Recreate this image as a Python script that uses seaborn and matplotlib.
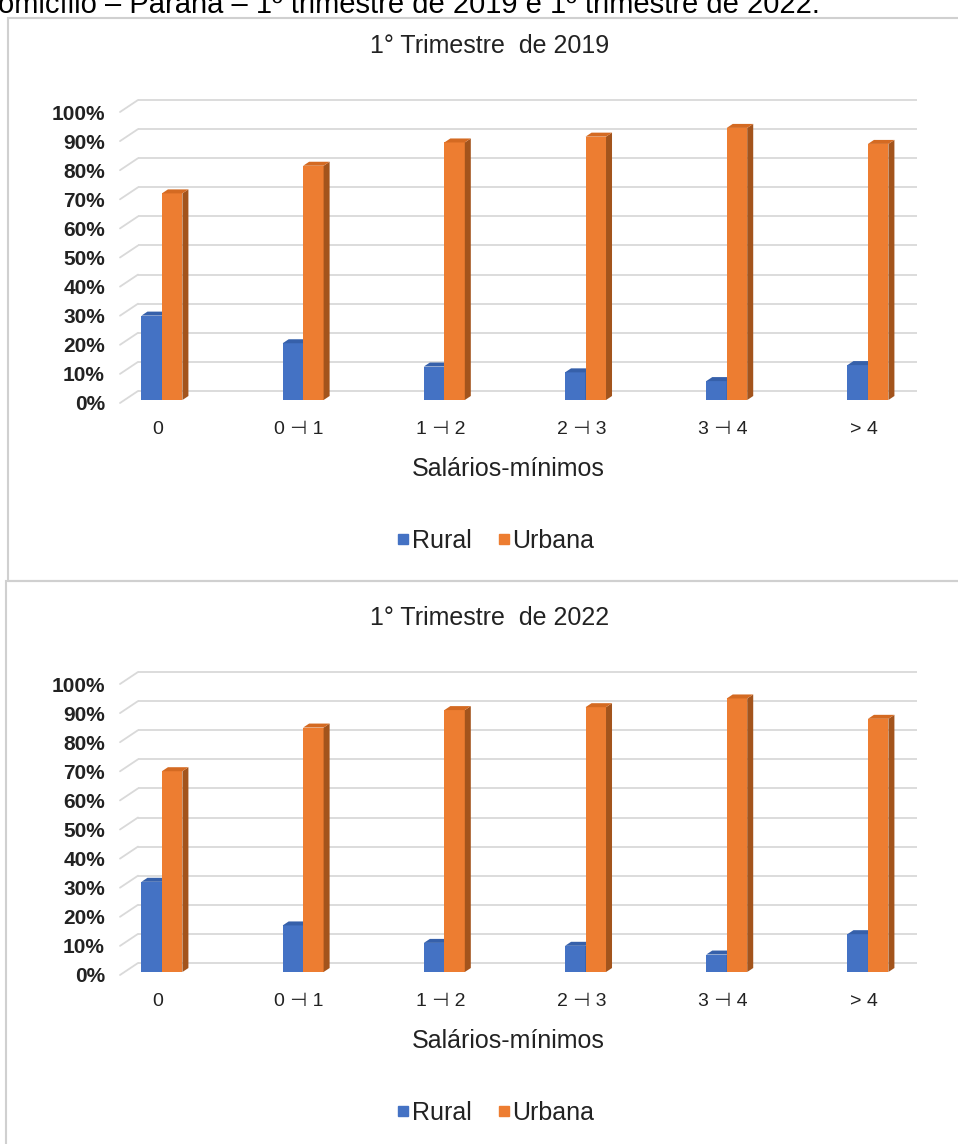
import matplotlib
matplotlib.use("Agg")
import matplotlib.pyplot as plt
from matplotlib import transforms
from matplotlib.patches import Polygon, Rectangle
from matplotlib.lines import Line2D
import pandas as pd
import seaborn as sns

# ---- data -------------------------------------------------------------
faixas = ["0", "0 \u22a3 1", "1 \u22a3 2", "2 \u22a3 3", "3 \u22a3 4", "> 4"]
areas = ["Rural", "Urbana"]
rural_2019 = [29.0, 19.5, 11.5, 9.5, 6.5, 12.0]
urbana_2019 = [71.0, 80.5, 88.5, 90.5, 93.5, 88.0]
rural_2022 = [31.0, 16.0, 10.0, 9.0, 6.0, 13.0]
urbana_2022 = [69.0, 84.0, 90.0, 91.0, 94.0, 87.0]
y_ticks = list(range(0, 101, 10))
y_tick_labels = [f"{v}%" for v in y_ticks]
titulos = ["1\u00b0 Trimestre  de 2019", "1\u00b0 Trimestre  de 2022"]
eixo_x = "Sal\u00e1rios-m\u00ednimos"
cabecalho = ("Rendimento domiciliar per capita por situa\u00e7\u00e3o do domic\u00edlio"
             " \u2013 Paran\u00e1 \u2013 1\u00ba trimestre de 2019 e 1\u00ba trimestre de 2022.")

# ---- style ------------------------------------------------------------
sns.set_theme(style="white")
plt.rcParams["font.family"] = ["Liberation Sans", "DejaVu Sans"]

W, H, DPI = 958, 1144, 100
FRONT = {"Rural": "#4472C4", "Urbana": "#ED7D31"}
TOP = {"Rural": "#3660AA", "Urbana": "#D46A22"}
SIDE = {"Rural": "#2F5597", "Urbana": "#A3541C"}
GRID = "#D9D9D9"
TXT = "#222222"
WALL_DX, WALL_DY = 18, 9      # depth of the back wall, pixels
BAR_DX, BAR_DY = 6, 4         # depth of each column, pixels

fig = plt.figure(figsize=(W / DPI, H / DPI), dpi=DPI)
fig.patch.set_facecolor("white")

ident = transforms.IdentityTransform()


def px_axes(left, top, right, bottom):
    return fig.add_axes([left / W, 1 - bottom / H, (right - left) / W, (bottom - top) / H])


def draw_panel(off, titulo, rural, urbana):
    ax = px_axes(120, 109 + off, 899, 400 + off)
    df = pd.DataFrame({
        "faixa": faixas * 2,
        "area": ["Rural"] * len(faixas) + ["Urbana"] * len(faixas),
        "pct": list(rural) + list(urbana),
    })
    sns.barplot(data=df, x="faixa", y="pct", hue="area", order=faixas,
                hue_order=areas, palette=FRONT, width=0.29, saturation=1,
                errorbar=None, legend=False, linewidth=0, ax=ax)
    ax.set_ylim(0, 100)
    ax.set_xlim(-0.297, 5.22)
    ax.set_xlabel("")
    ax.set_ylabel("")
    ax.set_xticks([])
    ax.set_yticks([])
    for s in ax.spines.values():
        s.set_visible(False)
    ax.patch.set_alpha(0)

    # back-wall gridlines and the left-hand depth edges
    wall = transforms.offset_copy(ax.transData, fig=fig, x=WALL_DX, y=WALL_DY, units="dots")
    x0, x1 = ax.get_xlim()
    for v in y_ticks:
        ax.plot([x0, x1], [v, v], transform=wall, color=GRID, lw=1.3,
                zorder=0.5, clip_on=False, solid_capstyle="butt")
        fx, fy = ax.transData.transform((x0, v))
        ax.add_line(Line2D([fx, fx + WALL_DX], [fy - 3, fy + WALL_DY], transform=ident,
                           color=GRID, lw=1.3, zorder=0.5, clip_on=False))

    # 3-D faces of each column
    for area, cont in zip(areas, ax.containers):
        z = 2.5 if area == "Rural" else 3
        for bar in cont:
            bar.set_zorder(z)
            bx, bw, bh = bar.get_x(), bar.get_width(), bar.get_height()
            xa, ya = ax.transData.transform((bx, bh))
            xb, yb0 = ax.transData.transform((bx + bw, 0))
            top = [(xa, ya), (xb, ya), (xb + BAR_DX, ya + BAR_DY), (xa + BAR_DX, ya + BAR_DY)]
            side = [(xb, yb0), (xb, ya), (xb + BAR_DX, ya + BAR_DY), (xb + BAR_DX, yb0 + BAR_DY)]
            ax.add_patch(Polygon(side, closed=True, transform=ident, fc=SIDE[area],
                                 ec="none", zorder=z, clip_on=False))
            ax.add_patch(Polygon(top, closed=True, transform=ident, fc=TOP[area],
                                 ec="none", zorder=z, clip_on=False))

    # tick labels
    ylab_tr = transforms.offset_copy(ax.get_yaxis_transform(), fig=fig, x=-15, y=-5, units="dots")
    for v, lab in zip(y_ticks, y_tick_labels):
        ax.text(0, v, lab, transform=ylab_tr, ha="right", va="center",
                fontsize=15, fontweight="bold", color=TXT)
    xlab_tr = transforms.offset_copy(ax.get_xaxis_transform(), fig=fig, x=-4, y=-30, units="dots")
    for i, lab in enumerate(faixas):
        ax.text(i, 0, lab, transform=xlab_tr, ha="center", va="center",
                fontsize=14, color=TXT)

    fig.text(490 / W, 1 - (46 + off) / H, titulo, ha="center", va="center",
             fontsize=18, color=TXT)
    fig.text(508 / W, 1 - (469 + off) / H, eixo_x, ha="center", va="center",
             fontsize=18, color=TXT)
    handles = [Line2D([], [], marker="s", ls="none", color=FRONT[a], markersize=7.5, label=a)
               for a in areas]
    fig.legend(handles=handles, loc="center", bbox_to_anchor=(495 / W, 1 - (541 + off) / H),
               ncol=2, frameon=False, fontsize=18, handletextpad=0.05,
               columnspacing=1.0, handlelength=0.6, labelcolor=TXT)


# chart frames
fig.add_artist(Rectangle((8 / W, 1 - 581 / H), (W + 10) / W, (581 - 18) / H,
                         transform=fig.transFigure, fill=False, ec="#D0D0D0", lw=1.5))
fig.add_artist(Rectangle((6 / W, -0.02), (W + 10) / W, (H - 581) / H + 0.02,
                         transform=fig.transFigure, fill=False, ec="#D0D0D0", lw=1.5))

# caption line running in from above the frames
fig.text(820 / W, 1 - 13 / H, cabecalho, ha="right", va="baseline", fontsize=21, color="black")

draw_panel(0, titulos[0], rural_2019, urbana_2019)
draw_panel(572, titulos[1], rural_2022, urbana_2022)

fig.savefig("out.png", dpi=DPI, facecolor="white")
